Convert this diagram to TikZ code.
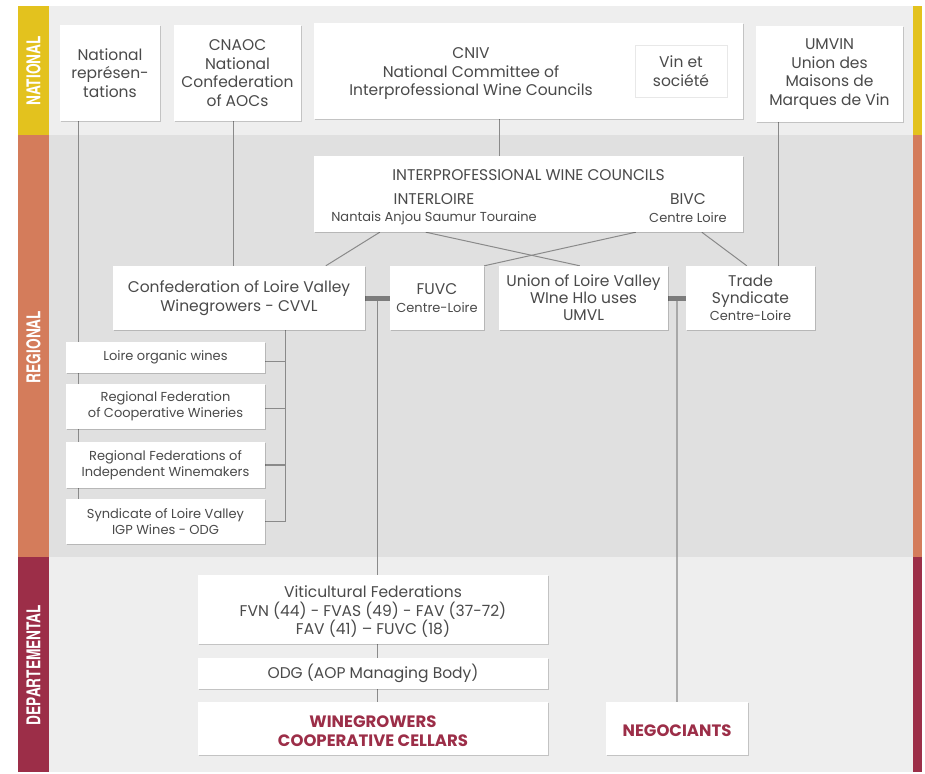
\documentclass[tikz,border=0pt]{standalone}
\usepackage{graphicx}
\usepackage{fontspec}
\setmainfont{Poppins}
\newfontfamily\bandfont{TeX Gyre Heros}
\usetikzlibrary{shadows,calc}
\definecolor{natY}{HTML}{E3C21E}
\definecolor{regO}{HTML}{D47C5B}
\definecolor{depR}{HTML}{9C2E48}
\definecolor{bgL}{HTML}{EEEEEE}
\definecolor{bgD}{HTML}{E0E0E0}
\definecolor{txt}{HTML}{4A4A4A}
\definecolor{ln}{HTML}{8A8A8A}
\pgfdeclarelayer{bg}
\pgfdeclarelayer{lines}
\pgfsetlayers{bg,lines,main}
\tikzset{
  box/.style={fill=white, draw=none, inner sep=0pt, align=center, text=txt,
    font=\fontsize{15.5}{18.5}\selectfont,
    drop shadow={shadow xshift=0.8pt, shadow yshift=-0.8pt, opacity=0.18, fill=black}},
  txtn/.style={inner sep=0pt, align=center, text=txt, font=\fontsize{15.5}{18.5}\selectfont},
  smallt/.style={inner sep=0pt, align=center, text=txt, font=\fontsize{13}{16}\selectfont},
  redt/.style={inner sep=0pt, align=center, text=depR, font=\bfseries\fontsize{16.5}{19}\selectfont},
  band/.style={rotate=90, inner sep=0pt, text=white, font=\bandfont\bfseries\fontsize{19}{19}\selectfont},
  conn/.style={draw=ln, line width=1.2pt},
  thickconn/.style={draw=ln!90!black, line width=5pt}
}
\begin{document}
\begin{tikzpicture}[x=1pt, y=-1pt]
\useasboundingbox (0,0) rectangle (925,773);
\begin{pgfonlayer}{bg}
  \fill[white] (0,0) rectangle (925,773);
  \fill[bgL] (49,6) rectangle (913,135);
  \fill[bgD] (49,135) rectangle (913,557);
  \fill[bgL] (49,557) rectangle (913,772);
  \fill[natY] (18,6) rectangle (49,135);
  \fill[regO] (18,135) rectangle (49,557);
  \fill[depR] (18,557) rectangle (49,772);
  \fill[natY] (913,6) rectangle (922,135);
  \fill[regO] (913,135) rectangle (922,557);
  \fill[depR] (913,557) rectangle (922,772);
\end{pgfonlayer}

% band labels
\node[band] (lnat) at (33.5,71) {\scalebox{0.72}[1]{NATIONAL}};
\node[band] (lreg) at (33.5,347) {\scalebox{0.72}[1]{REGIONAL}};
\node[band] (ldep) at (33.5,665) {\scalebox{0.72}[1]{DEPARTEMENTAL}};

% national row
\node[box, minimum width=100pt, minimum height=96pt] (natrep) at (110,73) {National\\représen-\\tations};
\node[box, minimum width=127pt, minimum height=96pt] (cnaoc) at (237.5,73) {CNAOC\\National\\Confederation\\of AOCs};
\node[box, minimum width=429pt, minimum height=96pt] (cniv) at (528.5,71) {};
\node[txtn] (cnivt) at (471,74) {CNIV\\National Committee of\\Interprofessional Wine Councils};
\node[box, draw=black!9, line width=0.7pt, minimum width=92pt, minimum height=52pt] (vin) at (681,71) {Vin et\\société};
\node[box, minimum width=147pt, minimum height=96pt] (umvin) at (829.5,74) {UMVIN\\Union des\\Maisons de\\Marques de Vin};

% interprofessional
\node[box, minimum width=429pt, minimum height=76pt] (interprof) at (528.5,194) {};
\node[txtn] (ipt) at (528.5,175) {INTERPROFESSIONAL WINE COUNCILS};
\node[txtn] (ilt) at (434,199) {INTERLOIRE};
\node[smallt] (ilst) at (434,218) {Nantais Anjou Saumur Touraine};
\node[txtn] (bivt) at (688,199) {BIVC};
\node[smallt] (bivst) at (688,218) {Centre Loire};

% regional row
\node[box, minimum width=252pt, minimum height=64pt] (cvvl) at (239,298) {Confederation of Loire Valley\\Winegrowers - CVVL};
\node[box, minimum width=94pt, minimum height=64pt] (fuvc) at (437,298) {FUVC\\{\fontsize{13}{16}\selectfont Centre-Loire}};
\node[box, minimum width=169pt, minimum height=64pt, font=\fontsize{15.5}{17}\selectfont] (umvl) at (583.5,298) {Union of Loire Valley\\WIne Hlo uses\\UMVL};
\node[box, minimum width=129pt, minimum height=64pt, font=\fontsize{15.5}{17}\selectfont] (trade) at (750.5,298) {Trade\\Syndicate\\{\fontsize{13}{16}\selectfont Centre-Loire}};

% small boxes
\node[box, minimum width=199pt, minimum height=31pt, font=\fontsize{13}{16}\selectfont] (org) at (165.5,357.5) {Loire organic wines};
\node[box, minimum width=199pt, minimum height=45pt, font=\fontsize{13}{16}\selectfont] (coop) at (165.5,406.5) {Regional Federation\\of Cooperative Wineries};
\node[box, minimum width=199pt, minimum height=46pt, font=\fontsize{13}{16}\selectfont] (indep) at (165.5,465) {Regional Federations of\\Independent Winemakers};
\node[box, minimum width=199pt, minimum height=45pt, font=\fontsize{13}{16}\selectfont] (igp) at (165.5,521.5) {Syndicate of Loire Valley\\IGP Wines - ODG};

% departmental
\node[box, minimum width=350pt, minimum height=69pt] (viti) at (373,609.5) {};
\node[txtn] (vitit) at (373,612) {Viticultural Federations\\FVN (44) - FVAS (49) - FAV (37-72)\\FAV (41) – FUVC (18)};
\node[box, minimum width=350pt, minimum height=31pt] (odg) at (373,673.5) {ODG (AOP Managing Body)};
\node[box, minimum width=350pt, minimum height=53pt] (wine) at (373,728.5) {};
\node[redt] (winet) at (373,731) {WINEGROWERS\\COOPERATIVE CELLARS};
\node[box, minimum width=142pt, minimum height=53pt] (nego) at (677,728.5) {};
\node[redt] (negot) at (677,731) {NEGOCIANTS};

% connectors
\begin{pgfonlayer}{lines}
  \draw[conn] ($(natrep.south west)+(19,0)$) coordinate (nrl) -- (nrl |- igp.north);
  \draw[conn] ($(cnaoc.south)+(-4,0)$) coordinate (cnl) -- (cnl |- cvvl.north);
  \draw[conn] ($(cniv.south west)+(186,0)$) coordinate (cvl) -- (cvl |- interprof.north);
  \draw[conn] ($(umvin.south west)+(23,0)$) coordinate (uml) -- (uml |- trade.north);
  % diagonals
  \draw[conn, line width=1pt] ($(interprof.south west)+(66,0)$) -- ($(cvvl.north west)+(213,0)$);
  \draw[conn, line width=1pt] ($(interprof.south west)+(112,0)$) -- ($(umvl.north west)+(81,0)$);
  \draw[conn, line width=1pt] ($(interprof.south west)+(322,0)$) -- (fuvc.north east);
  \draw[conn, line width=1pt] ($(interprof.south west)+(388,0)$) -- ($(trade.north west)+(61,0)$);
  % bracket
  \draw[conn] ($(cvvl.south west)+(173,0)$) coordinate (br) -- (br |- igp.east) -- (igp.east);
  \draw[conn] ($(org.east)+(0,4)$) -- ++(21,0);
  \draw[conn] ($(coop.east)+(0,2)$) -- ++(21,0);
  \draw[conn] (indep.east) -- (indep.east -| br);
  % thick links and verticals
  \draw[conn] ($(cvvl.east)!0.5!(fuvc.west)$) coordinate (j1) -- (j1 |- viti.north);
  \draw[conn] (viti.south -| j1) -- (odg.north -| j1);
  \draw[conn] (odg.south -| j1) -- (wine.north -| j1);
  \draw[conn] ($(umvl.east)!0.5!(trade.west)$) coordinate (j2) -- (nego.north);
  \draw[thickconn] (cvvl.east) -- (fuvc.west);
  \draw[thickconn] (umvl.east) -- (trade.west);
\end{pgfonlayer}
\end{tikzpicture}
\end{document}
